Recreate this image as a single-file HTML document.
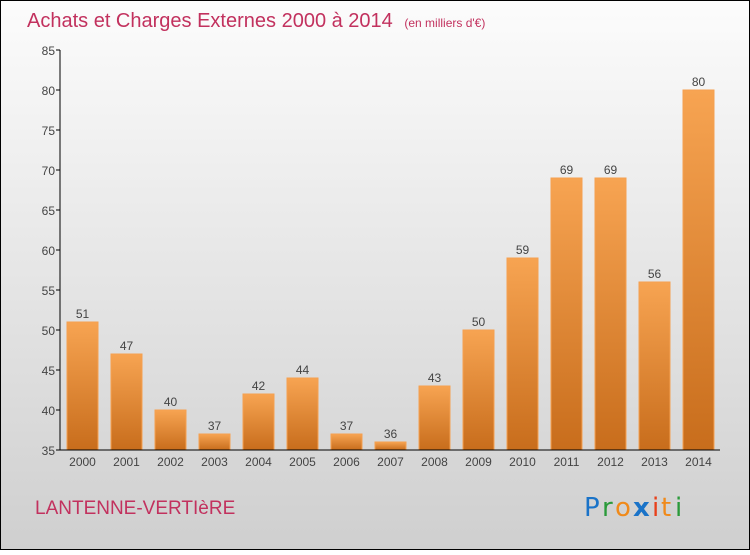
<!DOCTYPE html>
<html><head><meta charset="utf-8"><style>
body{margin:0;width:750px;height:550px;overflow:hidden;font-family:"Liberation Sans","DejaVu Sans",sans-serif}
</style></head><body>
<svg width="750" height="550" xmlns="http://www.w3.org/2000/svg">
<defs>
<linearGradient id="bg" x1="0" y1="0" x2="0" y2="1"><stop offset="0" stop-color="#fcfcfc"/><stop offset="1" stop-color="#cfcfcf"/></linearGradient>
<linearGradient id="bar" x1="0" y1="0" x2="0" y2="1"><stop offset="0" stop-color="#f7a452"/><stop offset="1" stop-color="#c86d1c"/></linearGradient>
</defs>
<rect x="0.5" y="0.5" width="749" height="549" fill="url(#bg)" stroke="#000"/>
<text x="27" y="27" font-size="20" fill="#c2315e">Achats et Charges Externes 2000 à 2014 <tspan font-size="12" dx="6">(en milliers d'€)</tspan></text>
<g id="yaxis"></g>
<g id="bars"></g>
<g id="xaxis"></g>
<text x="35" y="514" font-size="19" fill="#c2315e">LANTENNE-VERTIèRE</text>
<g font-size="26" font-family="'DejaVu Sans',sans-serif">
<text x="584" y="516" fill="#1a73c8">P</text><text x="602" y="516" fill="#2a9a3a">r</text><text x="615" y="516" fill="#f08a1a">o</text><text x="633" y="516" fill="#1a73c8" font-weight="bold">x</text><text x="652" y="516" fill="#e8401a">i</text><text x="661" y="516" fill="#f08a1a">t</text><text x="675" y="516" fill="#2a9a3a">i</text>
</g>
</svg>
<script>
const categories=["2000","2001","2002","2003","2004","2005","2006","2007","2008","2009","2010","2011","2012","2013","2014"];
const values=[51,47,40,37,42,44,37,36,43,50,59,69,69,56,80];
const yTicks=[35,40,45,50,55,60,65,70,75,80,85];
const NS="http://www.w3.org/2000/svg";
const y=v=>450-(v-35)*8;
const x=i=>82+44*i;
function mk(t,a,p,txt){const e=document.createElementNS(NS,t);for(const k in a)e.setAttribute(k,a[k]);if(txt!==undefined)e.textContent=txt;p.appendChild(e);return e;}
const ya=document.getElementById('yaxis'),bg=document.getElementById('bars'),xa=document.getElementById('xaxis');
const ax=mk('line',{x1:60,y1:y(85),x2:60,y2:450,stroke:'#000'},ya);


yTicks.forEach(t=>{
 const l=mk('line',{x1:56,y1:y(t),x2:60,y2:y(t),stroke:'#000'},ya);
 
 
 const tx=mk('text',{x:55,y:y(t)+5,'text-anchor':'end','font-size':12,fill:'#444'},ya,t);
 
 
});
values.forEach((v,i)=>{
 const r=mk('rect',{x:x(i)-15,y:y(v),width:31,height:450-y(v),fill:'url(#bar)',stroke:'#f5a050','stroke-width':1},bg);
 
 
 const t=mk('text',{x:x(i)+0.5,y:y(v)-4,'text-anchor':'middle','font-size':12,fill:'#444'},bg,v);
 
 
 const c=mk('text',{x:x(i)+0.5,y:466,'text-anchor':'middle','font-size':12,fill:'#444'},xa,categories[i]);
 
 
});
const xl=mk('line',{x1:60,y1:450,x2:720,y2:450,stroke:'#000'},xa);


</script>
</body></html>
